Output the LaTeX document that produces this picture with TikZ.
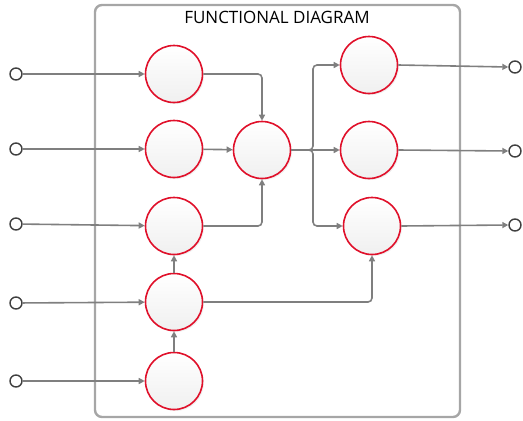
\documentclass[tikz,border=0pt]{standalone}
\usepackage{fontspec}
\setmainfont{Open Sans}
\usetikzlibrary{arrows.meta,shadows}
\definecolor{nodered}{HTML}{E0102A}
\definecolor{wire}{HTML}{7F7F7F}
\definecolor{framegray}{HTML}{A6A6A6}
\definecolor{termgray}{HTML}{404040}
\tikzset{
  fn/.style={circle, draw=nodered, line width=1.6pt, minimum size=57pt, inner sep=0pt,
    top color=white, bottom color=black!6,
    drop shadow={shadow xshift=1.5pt, shadow yshift=-1.5pt, opacity=0.12}},
  term/.style={circle, draw=termgray, line width=1.4pt, fill=white, minimum size=12pt, inner sep=0pt},
  conn/.style={draw=wire, line width=1.6pt, rounded corners=4pt, -{Triangle[length=6pt,width=6pt]}},
  frm/.style={draw=framegray, line width=2.4pt, rounded corners=7pt}
}
\begin{document}
\begin{tikzpicture}[x=1pt,y=-1pt]
\useasboundingbox (0,0) rectangle (523,421);
\draw[frm] (95,5) rectangle (460,417);
\node[font=\fontsize{17}{20}\selectfont] (title) at (277,17) {FUNCTIONAL DIAGRAM};
% nodes
\node[fn] (a1) at (174,74) {};
\node[fn] (a2) at (174,149) {};
\node[fn] (a3) at (174,226) {};
\node[fn] (a4) at (174,302) {};
\node[fn] (a5) at (174,381) {};
\node[fn] (c) at (262,150) {};
\node[fn] (b1) at (369,65) {};
\node[fn] (b2) at (369,150) {};
\node[fn] (b3) at (372,226) {};
% terminals
\node[term] (i1) at (16,74) {};
\node[term] (i2) at (16,149) {};
\node[term] (i3) at (16,224) {};
\node[term] (i4) at (16,303) {};
\node[term] (i5) at (16,381) {};
\node[term] (o1) at (515,67) {};
\node[term] (o2) at (515,151) {};
\node[term] (o3) at (515,225) {};
% connectors
\draw[conn] (i1) -- (a1);
\draw[conn] (i2) -- (a2);
\draw[conn] (i3) -- (a3);
\draw[conn] (i4) -- (a4);
\draw[conn] (i5) -- (a5);
\draw[conn] (a1.east) -| (c.north);
\draw[conn] (a2) -- (c);
\draw[conn] (a3.east) -| (c.south);
\draw[conn] (a5) -- (a4);
\draw[conn] (a4) -- (a3);
\draw[conn] (a4.east) -| (b3.south);
\draw[conn] (c.east) -- (313,150) |- (b1.west);
\draw[conn] (c.east) -- (b2.west);
\draw[conn] (c.east) -- (313,150) |- (b3.west);
\draw[conn] (b1.east) -- (o1.west);
\draw[conn] (b2.east) -- (o2.west);
\draw[conn] (b3.east) -- (o3.west);
\end{tikzpicture}
\end{document}
